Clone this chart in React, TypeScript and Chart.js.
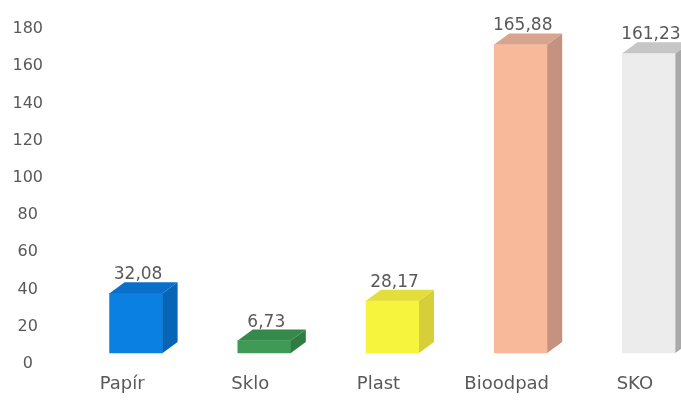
import React, { useEffect, useRef } from 'react';
import { Chart, registerables } from 'chart.js';

Chart.register(...registerables);

const categories = ['Papír', 'Sklo', 'Plast', 'Bioodpad', 'SKO'];
const values = [32.08, 6.73, 28.17, 165.88, 161.23];
const yTicks = [0, 20, 40, 60, 80, 100, 120, 140, 160, 180];
const frontColors = ['#0a80e2', '#3f9a56', '#f6f43c', '#f8b99b', '#ececec'];
const sideColors = ['#0864b4', '#2f7c43', '#d6cf3a', '#c4927f', '#a9a9a9'];
const topColors = ['#0a6fc8', '#358a4b', '#e4de3d', '#d9a48d', '#c6c6c6'];

const TEXT = '#595959';
const FONT = 'DejaVu Sans';
const DX = 15;
const DY = 11;

const fmt = (v: number) => v.toFixed(2).replace('.', ',');

const bar3d = {
  id: 'bar3d',
  afterDatasetsDraw(chart: any) {
    const ctx = chart.ctx;
    const meta = chart.getDatasetMeta(0);
    ctx.save();
    meta.data.forEach((el: any, i: number) => {
      const p = el.getProps(['x', 'y', 'base', 'width'], true);
      const l = p.x - p.width / 2;
      const r = p.x + p.width / 2;
      const top = p.y;
      const base = p.base;
      ctx.fillStyle = sideColors[i];
      ctx.beginPath();
      ctx.moveTo(r, top);
      ctx.lineTo(r + DX, top - DY);
      ctx.lineTo(r + DX, base - DY);
      ctx.lineTo(r, base);
      ctx.closePath();
      ctx.fill();
      ctx.fillStyle = topColors[i];
      ctx.beginPath();
      ctx.moveTo(l, top);
      ctx.lineTo(l + DX, top - DY);
      ctx.lineTo(r + DX, top - DY);
      ctx.lineTo(r, top);
      ctx.closePath();
      ctx.fill();
      ctx.fillStyle = TEXT;
      ctx.font = `17px "${FONT}"`;
      ctx.textAlign = 'center';
      ctx.textBaseline = 'alphabetic';
      ctx.fillText(fmt(values[i]), p.x + 2, top - DY - 3);
    });
    ctx.restore();
  },
};

export default function App() {
  const ref = useRef<HTMLCanvasElement>(null);
  useEffect(() => {
    document.body.style.margin = '0';
    const chart = new Chart(ref.current!, {
      type: 'bar',
      data: {
        labels: categories,
        datasets: [
          {
            data: values,
            backgroundColor: frontColors,
            borderWidth: 0,
            barThickness: 53,
            yAxisID: 'y2',
            clip: false as any,
          },
        ],
      },
      options: {
        animation: false,
        responsive: false,
        layout: { padding: { top: 29, right: 0, bottom: 0, left: 0 } },
        plugins: { legend: { display: false }, tooltip: { enabled: false } },
        scales: {
          x: {
            grid: { display: false },
            border: { display: false },
            ticks: {
              color: TEXT,
              font: { family: FONT, size: 18 },
              padding: 2,
              labelOffset: -14,
              maxRotation: 0,
            },
            afterFit(scale: any) {
              scale.height = 39;
            },
          },
          y: {
            min: 0,
            max: 180,
            afterBuildTicks(scale: any) {
              scale.ticks = yTicks.map((v) => ({ value: v }));
            },
            grid: { display: false, drawTicks: true, tickLength: 29 },
            border: { display: false },
            ticks: {
              color: TEXT,
              font: { family: FONT, size: 16 },
              padding: 0,
              crossAlign: 'center',
            },
            afterFit(scale: any) {
              scale.width = 72;
            },
          },
          y2: {
            display: false,
            min: -5.9,
            max: 174.2,
          },
        },
      },
      plugins: [bar3d],
    });
    return () => chart.destroy();
  }, []);
  return (
    <div style={{ width: 681, height: 403, overflow: 'hidden' }}>
      <canvas ref={ref} width={713} height={403} />
    </div>
  );
}
